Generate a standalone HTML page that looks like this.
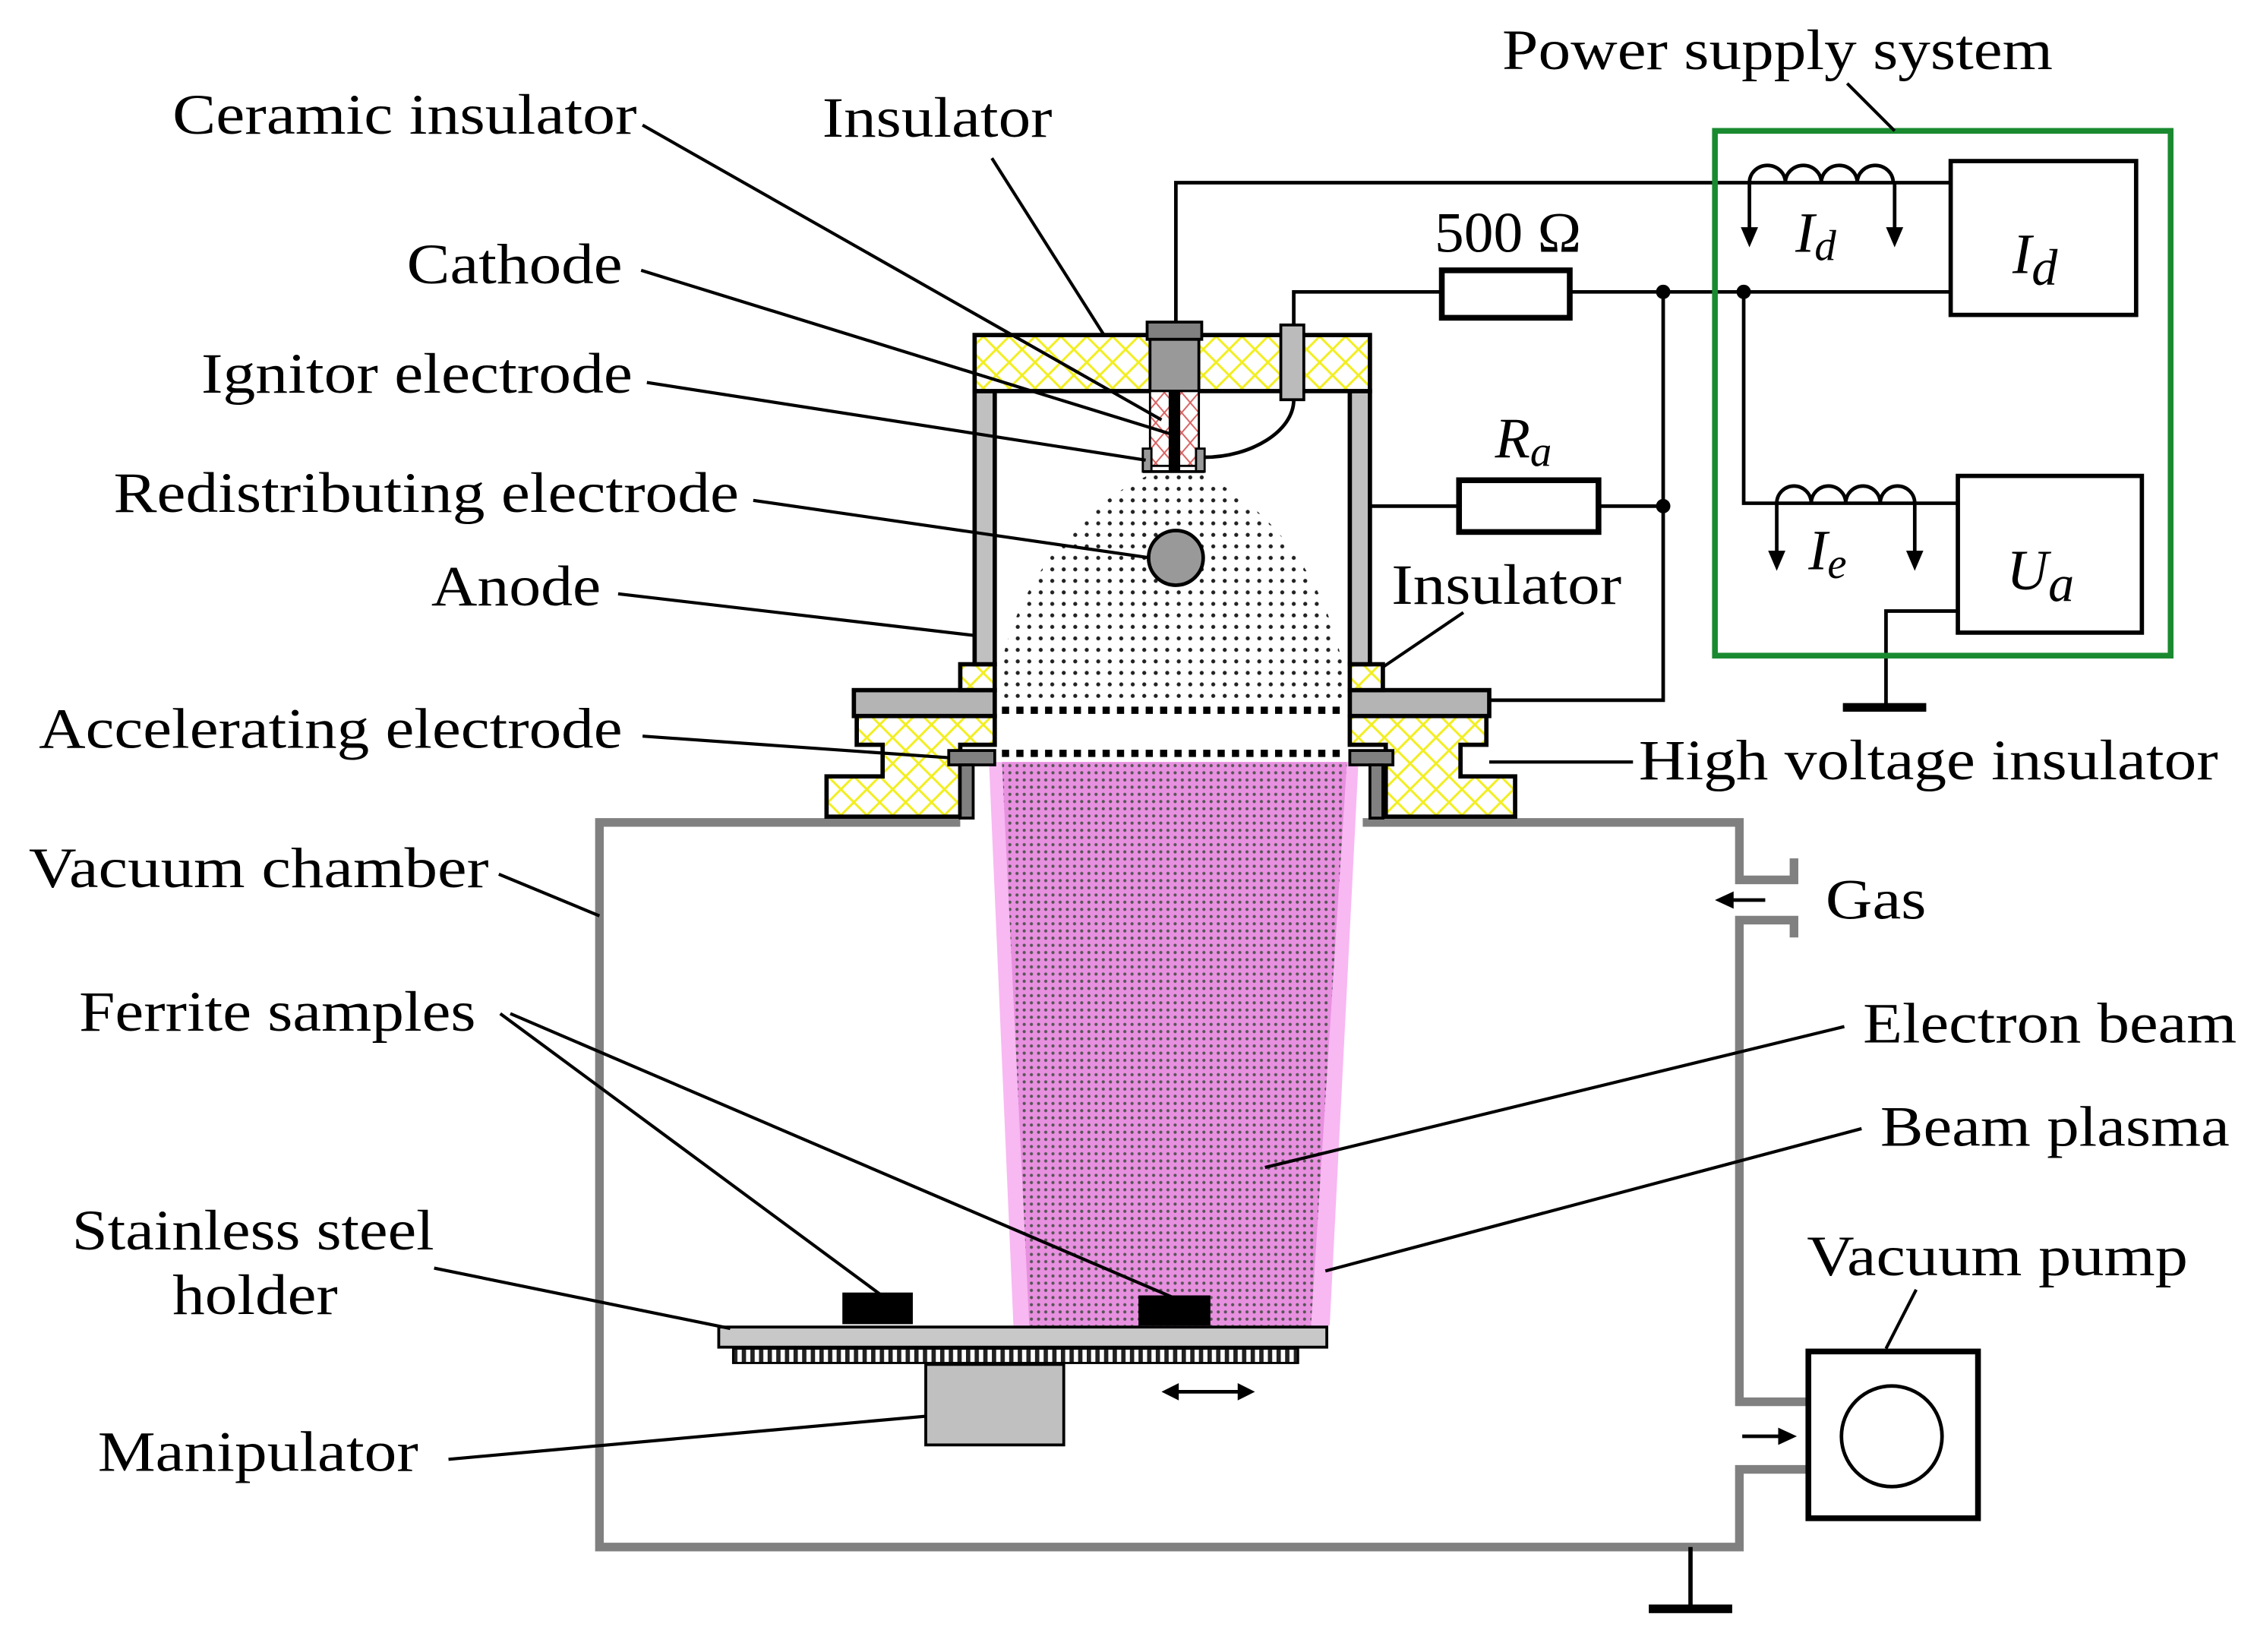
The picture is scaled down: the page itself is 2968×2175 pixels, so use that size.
<!DOCTYPE html>
<html><head><meta charset="utf-8"><style>
html,body{margin:0;padding:0;background:#fff}
svg{display:block}
text{font-family:"Liberation Serif",serif;font-size:40px;fill:#000}
.it{font-style:italic}
</style></head><body>
<svg width="2968" height="2175" viewBox="0 0 1568 1149" xmlns="http://www.w3.org/2000/svg">
<defs>
<pattern id="yx" width="18" height="18" patternUnits="userSpaceOnUse">
<rect width="18" height="18" fill="#fff"/>
<path d="M0 0L18 18M18 0L0 18" stroke="#f2ee20" stroke-width="1.6"/>
</pattern>
<pattern id="rx" width="12" height="14" patternUnits="userSpaceOnUse">
<rect width="12" height="14" fill="#fff"/>
<path d="M0 0L12 14M12 0L0 14" stroke="#d86060" stroke-width="1"/>
</pattern>
<pattern id="dots" width="8" height="8" patternUnits="userSpaceOnUse">
<circle cx="4" cy="4" r="1.4" fill="#222"/>
</pattern>
<pattern id="bdots" width="5" height="5" patternUnits="userSpaceOnUse">
<rect width="5" height="5" fill="#e890e0"/>
<circle cx="2.5" cy="2.5" r="1.1" fill="#555"/>
</pattern>
<pattern id="hs" width="6" height="11" patternUnits="userSpaceOnUse">
<rect width="6" height="11" fill="#fff"/><rect x="0" width="3" height="11" fill="#222"/>
</pattern>
</defs>

<polygon points="688,530 945,530 925,922 705,922" fill="#f8b8f2"/>
<polygon points="697,530 937,530 912,922 716,922" fill="url(#bdots)"/>

<path d="M800,330 L836,330 C900,360 935,430 937,490 L693,490 C695,430 735,360 800,330 Z" fill="url(#dots)"/>
<line x1="697" y1="494" x2="937" y2="494" stroke="#000" stroke-width="5" stroke-dasharray="5,5"/>
<line x1="697" y1="524" x2="937" y2="524" stroke="#000" stroke-width="5" stroke-dasharray="5,5"/>

<g fill="none" stroke="#808080" stroke-width="6">
<path d="M668,572 H417 V1076 H1210 V1022 H1258"/>
<path d="M948,572 H1210 V612 H1248 V597"/>
<path d="M1248,652 V640 H1210 V975 H1258"/>
</g>
<line x1="1228" y1="626" x2="1200" y2="626" stroke="#000" stroke-width="2.5"/>
<polygon points="1193,626 1206,620 1206,632" fill="#000"/>
<line x1="1212" y1="999" x2="1240" y2="999" stroke="#000" stroke-width="2.5"/>
<polygon points="1250,999 1237,993 1237,1005" fill="#000"/>
<rect x="1258" y="940" width="118" height="116" fill="#fff" stroke="#000" stroke-width="4"/>
<circle cx="1316" cy="999" r="35" fill="none" stroke="#000" stroke-width="2.5"/>
<line x1="1176" y1="1076" x2="1176" y2="1118" stroke="#000" stroke-width="3"/>
<rect x="1147" y="1116" width="58" height="6" fill="#000"/>

<rect x="586" y="899" width="49" height="22" fill="#000"/>
<rect x="792" y="901" width="50" height="21" fill="#000"/>
<rect x="500" y="923" width="423" height="14" fill="#c8c8c8" stroke="#000" stroke-width="2"/>
<rect x="510" y="938" width="393" height="10" fill="url(#hs)" stroke="#000" stroke-width="1.5"/>
<rect x="644" y="949" width="96" height="56" fill="#c0c0c0" stroke="#000" stroke-width="2"/>
<line x1="815" y1="968" x2="866" y2="968" stroke="#000" stroke-width="2.5"/>
<polygon points="808,968 820,962 820,974" fill="#000"/>
<polygon points="873,968 861,962 861,974" fill="#000"/>

<g stroke="#000" stroke-width="3">
<path d="M596,498 H692 V518 H668 V568 H575 V540 H614 V518 H596 Z" fill="url(#yx)"/>
<path d="M939,498 H1034 V518 H1016 V540 H1054 V568 H964 V518 H939 Z" fill="url(#yx)"/>
<rect x="594" y="480" width="98" height="18" fill="#b4b4b4"/>
<rect x="939" y="480" width="97" height="18" fill="#b4b4b4"/>
<rect x="668" y="462" width="24" height="18" fill="url(#yx)"/>
<rect x="939" y="462" width="23" height="18" fill="url(#yx)"/>
<rect x="678" y="272" width="14" height="190" fill="#c0c0c0"/>
<rect x="939" y="272" width="14" height="190" fill="#c0c0c0"/>
<rect x="678" y="233" width="275" height="39" fill="url(#yx)"/>
</g>
<g fill="#808080" stroke="#000" stroke-width="2">
<rect x="660" y="522" width="32" height="10"/>
<rect x="668" y="532" width="9" height="37"/>
<rect x="939" y="522" width="30" height="10"/>
<rect x="953" y="532" width="9" height="37"/>
</g>
<rect x="798" y="224" width="38" height="12" fill="#808080" stroke="#000" stroke-width="2"/>
<rect x="800" y="236" width="34" height="36" fill="#999" stroke="#000" stroke-width="2"/>
<rect x="891" y="226" width="16" height="52" fill="#bbb" stroke="#000" stroke-width="2"/>
<rect x="800" y="272" width="34" height="52" fill="url(#rx)" stroke="#000" stroke-width="1.5"/>
<rect x="813" y="272" width="8" height="56" fill="#000"/>
<rect x="795" y="312" width="6" height="16" fill="#999" stroke="#000" stroke-width="1.5"/>
<rect x="832" y="312" width="6" height="16" fill="#999" stroke="#000" stroke-width="1.5"/>
<line x1="795" y1="328" x2="838" y2="328" stroke="#000" stroke-width="2"/>
<path d="M900,278 C900,300 870,318 838,318" fill="none" stroke="#000" stroke-width="2.5"/>
<circle cx="818" cy="388" r="19" fill="#999" stroke="#000" stroke-width="2.5"/>

<g fill="none" stroke="#000" stroke-width="2.5">
<path d="M818,224 V127 H1357"/>
<path d="M900,226 V203 H1003"/>
<path d="M1092,203 H1357"/>
<path d="M1213,203 V350 H1362"/>
<path d="M1157,203 V487 H1036"/>
<path d="M953,352 H1015"/>
<path d="M1112,352 H1157"/>
<path d="M1362,425 H1312 V490"/>
<path d="M1217,127 a12.5,12 0 0 1 25,0 a12.5,12 0 0 1 25,0 a12.5,12 0 0 1 25,0 a12.5,12 0 0 1 25,0"/>
<path d="M1236,350 a12,12 0 0 1 24,0 a12,12 0 0 1 24,0 a12,12 0 0 1 24,0 a12,12 0 0 1 24,0"/>
<path d="M1217,127 V160 M1318,127 V160 M1236,350 V385 M1332,350 V385"/>
</g>
<g fill="#000">
<polygon points="1217,172 1211,158 1223,158"/>
<polygon points="1318,172 1312,158 1324,158"/>
<polygon points="1236,397 1230,383 1242,383"/>
<polygon points="1332,397 1326,383 1338,383"/>
<circle cx="1157" cy="203" r="5"/>
<circle cx="1213" cy="203" r="5"/>
<circle cx="1157" cy="352" r="5"/>
<rect x="1282" y="489" width="58" height="6"/>
</g>
<rect x="1003" y="188" width="89" height="33" fill="#fff" stroke="#000" stroke-width="4"/>
<rect x="1015" y="334" width="97" height="36" fill="#fff" stroke="#000" stroke-width="4"/>
<rect x="1357" y="112" width="129" height="107" fill="#fff" stroke="#000" stroke-width="3"/>
<rect x="1362" y="331" width="128" height="109" fill="#fff" stroke="#000" stroke-width="3"/>
<rect x="1193" y="91" width="317" height="365" fill="none" stroke="#1a8a30" stroke-width="4"/>

<g stroke="#000" stroke-width="2.2" fill="none">
<line x1="447" y1="87" x2="808" y2="292"/>
<line x1="690" y1="110" x2="768" y2="233"/>
<line x1="446" y1="188" x2="815" y2="302"/>
<line x1="450" y1="266" x2="797" y2="320"/>
<line x1="524" y1="348" x2="800" y2="388"/>
<line x1="430" y1="413" x2="678" y2="442"/>
<line x1="1018" y1="426" x2="962" y2="464"/>
<line x1="447" y1="512" x2="660" y2="527"/>
<line x1="1136" y1="530" x2="1036" y2="530"/>
<line x1="347" y1="608" x2="417" y2="637"/>
<line x1="348" y1="705" x2="612" y2="900"/>
<line x1="355" y1="705" x2="815" y2="902"/>
<line x1="1283" y1="714" x2="880" y2="812"/>
<line x1="1295" y1="785" x2="922" y2="884"/>
<line x1="1333" y1="897" x2="1312" y2="938"/>
<line x1="302" y1="882" x2="508" y2="924"/>
<line x1="312" y1="1015" x2="644" y2="985"/>
<line x1="1285" y1="58" x2="1318" y2="91"/>
</g>

<g>
<text x="1045" y="48" textLength="383" lengthAdjust="spacingAndGlyphs">Power supply system</text>
<text x="120" y="93" textLength="323" lengthAdjust="spacingAndGlyphs">Ceramic insulator</text>
<text x="572" y="95" textLength="160" lengthAdjust="spacingAndGlyphs">Insulator</text>
<text x="283" y="197" textLength="150" lengthAdjust="spacingAndGlyphs">Cathode</text>
<text x="140" y="273" textLength="300" lengthAdjust="spacingAndGlyphs">Ignitor electrode</text>
<text x="79" y="356" textLength="435" lengthAdjust="spacingAndGlyphs">Redistributing electrode</text>
<text x="300" y="421" textLength="118" lengthAdjust="spacingAndGlyphs">Anode</text>
<text x="968" y="420" textLength="160" lengthAdjust="spacingAndGlyphs">Insulator</text>
<text x="27" y="520" textLength="406" lengthAdjust="spacingAndGlyphs">Accelerating electrode</text>
<text x="1140" y="542" textLength="403" lengthAdjust="spacingAndGlyphs">High voltage insulator</text>
<text x="20" y="617" textLength="320" lengthAdjust="spacingAndGlyphs">Vacuum chamber</text>
<text x="1270" y="639" textLength="70" lengthAdjust="spacingAndGlyphs">Gas</text>
<text x="55" y="717" textLength="276" lengthAdjust="spacingAndGlyphs">Ferrite samples</text>
<text x="1296" y="725" textLength="260" lengthAdjust="spacingAndGlyphs">Electron beam</text>
<text x="1308" y="797" textLength="243" lengthAdjust="spacingAndGlyphs">Beam plasma</text>
<text x="50" y="869" textLength="252" lengthAdjust="spacingAndGlyphs">Stainless steel</text>
<text x="120" y="914" textLength="115" lengthAdjust="spacingAndGlyphs">holder</text>
<text x="1257" y="887" textLength="265" lengthAdjust="spacingAndGlyphs">Vacuum pump</text>
<text x="68" y="1023" textLength="223" lengthAdjust="spacingAndGlyphs">Manipulator</text>
<text x="998" y="175" textLength="102" lengthAdjust="spacingAndGlyphs">500 Ω</text>
</g>
<text x="1040" y="318" class="it">R<tspan font-size="30" dy="6">a</tspan></text>
<text x="1249" y="175" class="it">I<tspan font-size="30" dy="6">d</tspan></text>
<text x="1400" y="190" class="it" font-size="48">I<tspan font-size="36" dy="8">d</tspan></text>
<text x="1258" y="396" class="it">I<tspan font-size="30" dy="6">e</tspan></text>
<text x="1396" y="410" class="it" font-size="48">U<tspan font-size="36" dy="8">a</tspan></text>
</svg>
</body></html>
